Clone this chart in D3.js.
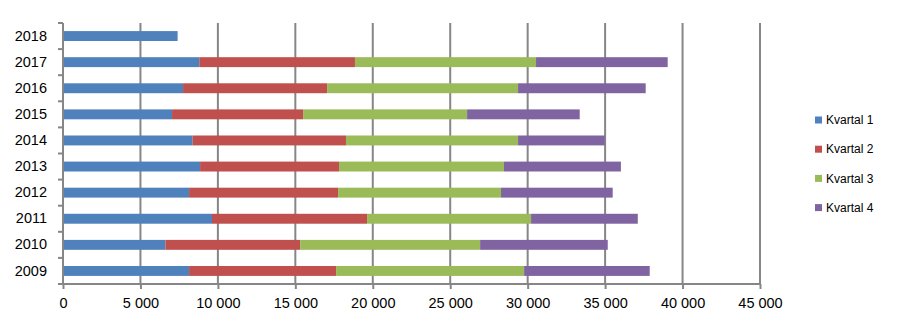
<!DOCTYPE html>
<html><head><meta charset="utf-8">
<script src="https://cdn.jsdelivr.net/npm/d3@7"></script>
<style>body{margin:0;background:#fff;}svg{display:block;}</style>
</head><body><svg id="c" width="897" height="328"></svg>
<script>
const years = ["2009","2010","2011","2012","2013","2014","2015","2016","2017","2018"];
const seriesNames = ["Kvartal 1","Kvartal 2","Kvartal 3","Kvartal 4"];
const kvartal1 = [8140, 6610, 9620, 8140, 8850, 8370, 7040, 7750, 8800, 7400];
const kvartal2 = [9490, 8700, 10010, 9620, 8970, 9900, 8460, 9300, 10050, 0];
const kvartal3 = [12140, 11620, 10590, 10520, 10650, 11110, 10590, 12330, 11690, 0];
const kvartal4 = [8110, 8240, 6890, 7210, 7550, 5600, 7270, 8240, 8500, 0];
const xTicks = [0,5000,10000,15000,20000,25000,30000,35000,40000,45000];
const colors = ["#4F81BD","#C0504D","#9BBB59","#8064A2"];

const svg = d3.select("#c");
const m = {left:63, top:23, right:760, bottom:284};
const x = d3.scaleLinear().domain([0,45000]).range([m.left,m.right]);
const y = d3.scaleBand().domain(years.slice().reverse()).range([m.top,m.bottom]).paddingInner(0.62).paddingOuter(0.31);
const yb = d3.scaleBand().domain(years.slice().reverse()).range([m.top,m.bottom]);

const table = years.map((yr,i)=>({year:yr, "Kvartal 1":kvartal1[i], "Kvartal 2":kvartal2[i], "Kvartal 3":kvartal3[i], "Kvartal 4":kvartal4[i]}));
const stacked = d3.stack().keys(seriesNames)(table);

const grid = "#868686";
// gridlines
svg.append("g").selectAll("line").data(xTicks.slice(1)).join("line")
  .attr("x1",d=>x(d)).attr("x2",d=>x(d)).attr("y1",m.top).attr("y2",m.bottom)
  .attr("stroke",grid).attr("stroke-width",2);

// bars
svg.append("g").selectAll("g").data(stacked).join("g")
  .attr("fill",(d,i)=>colors[i])
  .selectAll("rect").data(d=>d.filter(p=>p[1]-p[0]>0)).join("rect")
  .attr("x",d=>x(d[0])).attr("width",d=>x(d[1])-x(d[0]))
  .attr("y",d=>y(d.data.year)).attr("height",y.bandwidth());

// x axis
const xa = svg.append("g").attr("transform",`translate(0,${m.bottom})`)
  .call(d3.axisBottom(x).tickValues(xTicks).tickSize(5).tickPadding(9)
    .tickFormat(d=>d3.format(",")(d).replace(/,/g," ")));
// y axis
const ya = svg.append("g").attr("transform",`translate(${m.left},0)`)
  .call(d3.axisLeft(yb).tickSize(0).tickPadding(16));
// y ticks at band boundaries
svg.append("g").selectAll("line").data(years.map(yr=>yb(yr)).concat([m.bottom])).join("line")
  .attr("x1",m.left-5).attr("x2",m.left).attr("y1",d=>d).attr("y2",d=>d)
  .attr("stroke",grid).attr("stroke-width",2);

[xa,ya].forEach(a=>{
  a.selectAll(".domain").attr("stroke",grid).attr("stroke-width",2);
  a.selectAll(".tick line").attr("stroke",grid).attr("stroke-width",2);
  a.selectAll("text").attr("fill","#000").style("font-family","'Liberation Sans',Arial,sans-serif").style("font-size","14.5px");
});
xa.select(".domain").attr("d",`M${m.left},0H${m.right}`);
ya.select(".domain").attr("d",`M0,${m.top}V${m.bottom}`);

// legend
const lg = svg.append("g").selectAll("g").data(seriesNames).join("g")
  .attr("transform",(d,i)=>`translate(815,${120+i*29.2})`);
lg.append("rect").attr("x",0).attr("y",-3.5).attr("width",7).attr("height",7).attr("fill",(d,i)=>colors[i]);
lg.append("text").attr("x",11).attr("y",0).attr("dy","0.35em").text(d=>d)
  .style("font-family","'Liberation Sans',Arial,sans-serif").style("font-size","12px").attr("fill","#000");
</script></body></html>
